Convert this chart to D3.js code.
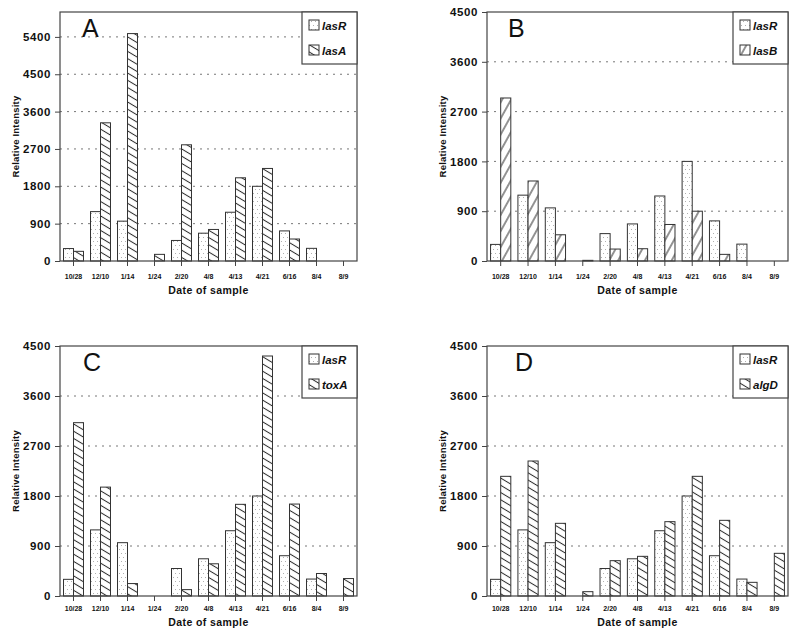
<!DOCTYPE html>
<html>
<head>
<meta charset="utf-8">
<script src="https://cdn.jsdelivr.net/npm/d3@7"></script>
<style>
  html, body { margin: 0; padding: 0; background: #fff; }
  svg { display: block; font-family: "Liberation Sans", Arial, Helvetica, sans-serif; }
</style>
</head>
<body>
<svg id="chart" width="800" height="636"></svg>
<script>
// ---- data ----
const categories = ["10/28", "12/10", "1/14", "1/24", "2/20", "4/8", "4/13", "4/21", "6/16", "8/4", "8/9"];
const lasR = [300, 1190, 960, 0, 495, 670, 1175, 1800, 725, 305, 0];
const lasA = [233, 3330, 5480, 160, 2800, 760, 2005, 2230, 530, 0, 0];
const lasB = [2946, 1446, 474, 12, 216, 222, 660, 900, 120, 0, 0];
const toxA = [3120, 1960, 224, 0, 115, 580, 1650, 4320, 1655, 405, 314];
const algD = [2154, 2430, 1308, 78, 636, 714, 1338, 2154, 1362, 246, 768];
const ticksA = [0, 900, 1800, 2700, 3600, 4500, 5400];
const ticksBCD = [0, 900, 1800, 2700, 3600, 4500];
const panelLetters = ["A", "B", "C", "D"];
const geneNames = ["lasA", "lasB", "toxA", "algD"];
const yMax = [6000, 4500, 4500, 4500];

// ---- layout ----
const layout = [
  { x: 60,  y: 12,  w: 297, h: 249, lab: 15.5, letterDx: 22 },
  { x: 487, y: 12,  w: 301, h: 249, lab: 15.5, letterDx: 21 },
  { x: 60,  y: 346, w: 297, h: 250, lab: 12.5, letterDx: 23 },
  { x: 487, y: 346, w: 301, h: 250, lab: 12.5, letterDx: 28 }
];
const seriesVals = [lasA, lasB, toxA, algD];
const tickSets = [ticksA, ticksBCD, ticksBCD, ticksBCD];
const patterns = ["back", "fwd", "back", "back"];

const svg = d3.select("#chart");
const defs = svg.append("defs");

// dotted pattern for lasR
const pDots = defs.append("pattern").attr("id", "dots").attr("patternUnits", "userSpaceOnUse")
  .attr("width", 4).attr("height", 8);
pDots.append("rect").attr("width", 4).attr("height", 8).attr("fill", "#fff");
pDots.append("rect").attr("x", 1).attr("y", 1).attr("width", 1).attr("height", 1).attr("fill", "#b0b0b0");
pDots.append("rect").attr("x", 3).attr("y", 5).attr("width", 1).attr("height", 1).attr("fill", "#b0b0b0");

// back-diagonal hatch (\)
const pBack = defs.append("pattern").attr("id", "back").attr("patternUnits", "userSpaceOnUse")
  .attr("width", 10).attr("height", 6.2).attr("patternTransform", "rotate(31)");
pBack.append("rect").attr("width", 10).attr("height", 6.2).attr("fill", "#fff");
pBack.append("line").attr("x1", 0).attr("x2", 10).attr("y1", 3.1).attr("y2", 3.1)
  .attr("stroke", "#2a2a2a").attr("stroke-width", 1);

// forward hatch (/)
const pFwd = defs.append("pattern").attr("id", "fwd").attr("patternUnits", "userSpaceOnUse")
  .attr("width", 10).attr("height", 7.8).attr("patternTransform", "rotate(-61)");
pFwd.append("rect").attr("width", 10).attr("height", 7.8).attr("fill", "#fff");
pFwd.append("line").attr("x1", 0).attr("x2", 10).attr("y1", 3.9).attr("y2", 3.9)
  .attr("stroke", "#2a2a2a").attr("stroke-width", 1);

layout.forEach((L, i) => {
  const g = svg.append("g");
  const x = d3.scaleBand().domain(categories).range([L.x, L.x + L.w]);
  const y = d3.scaleLinear().domain([0, yMax[i]]).range([L.y + L.h, L.y]);
  const bw = x.bandwidth() * 0.37;

  // gridlines
  g.selectAll("line.grid").data(tickSets[i].filter(t => t > 0 && t < yMax[i]))
    .enter().append("line")
    .attr("x1", L.x).attr("x2", L.x + L.w)
    .attr("y1", d => y(d)).attr("y2", d => y(d))
    .attr("stroke", "#777").attr("stroke-width", 1).attr("stroke-dasharray", "2,5");

  // bars
  const series = [
    { vals: lasR, fill: "url(#dots)", off: -1 },
    { vals: seriesVals[i], fill: "url(#" + patterns[i] + ")", off: 0 }
  ];
  series.forEach(s => {
    g.selectAll(null).data(categories.map((c, k) => ({ c, v: s.vals[k] })).filter(d => d.v > 0))
      .enter().append("rect")
      .attr("x", d => x(d.c) + x.bandwidth() / 2 + s.off * bw)
      .attr("y", d => y(d.v))
      .attr("width", bw)
      .attr("height", d => y(0) - y(d.v))
      .attr("fill", s.fill)
      .attr("stroke", "#333").attr("stroke-width", 1);
  });

  // frame
  g.append("rect").attr("x", L.x).attr("y", L.y).attr("width", L.w).attr("height", L.h)
    .attr("fill", "none").attr("stroke", "#444").attr("stroke-width", 1.2);

  // y axis
  const ya = g.append("g").attr("transform", `translate(${L.x},0)`)
    .call(d3.axisLeft(y).tickValues(tickSets[i]).tickSize(5).tickPadding(4).tickFormat(d3.format("d")));
  ya.select(".domain").remove();
  ya.selectAll("line").attr("stroke", "#444");
  ya.selectAll("text").attr("font-size", "11.5px").attr("font-weight", "bold")
    .attr("letter-spacing", "0.6px").attr("fill", "#111")
    .attr("font-family", "'Liberation Sans', Arial, sans-serif");

  // x axis
  const xa = g.append("g").attr("transform", `translate(0,${L.y + L.h})`)
    .call(d3.axisBottom(x).tickSize(5).tickPadding(L.lab - 7));
  xa.select(".domain").remove();
  xa.selectAll("line").attr("stroke", "#444");
  xa.selectAll("text").attr("font-size", "7px").attr("font-weight", "bold").attr("fill", "#111")
    .attr("font-family", "'Liberation Sans', Arial, sans-serif");

  // axis titles
  g.append("text").attr("x", L.x + L.w / 2).attr("y", L.y + L.h + L.lab + 17)
    .attr("text-anchor", "middle").attr("font-size", "10.5px").attr("font-weight", "bold")
    .attr("letter-spacing", "0.4px").attr("fill", "#111").text("Date of sample");
  g.append("text").attr("transform", `translate(${L.x - 41},${L.y + L.h / 2}) rotate(-90)`)
    .attr("text-anchor", "middle").attr("font-size", "9.5px").attr("font-weight", "bold")
    .attr("letter-spacing", "0.2px").attr("fill", "#111").text("Relative Intensity");

  // panel letter
  g.append("text").attr("x", L.x + L.letterDx).attr("y", L.y + 24.5)
    .attr("font-size", "25px").attr("fill", "#111").text(panelLetters[i]);

  // legend
  const lw = 55, lh = 52;
  const lx = L.x + L.w - lw, ly = L.y;
  const lg = g.append("g");
  lg.append("rect").attr("x", lx).attr("y", ly).attr("width", lw).attr("height", lh)
    .attr("fill", "#fff").attr("stroke", "#444").attr("stroke-width", 1.2);
  const items = [
    { name: "lasR", fill: "url(#dots)" },
    { name: geneNames[i], fill: "url(#" + patterns[i] + ")" }
  ];
  items.forEach((it, k) => {
    lg.append("rect").attr("x", lx + 7).attr("y", ly + 8 + k * 25).attr("width", 10).attr("height", 10)
      .attr("fill", it.fill).attr("stroke", "#333").attr("stroke-width", 1);
    lg.append("text").attr("x", lx + 20).attr("y", ly + 17.5 + k * 25)
      .attr("font-size", "11.5px").attr("font-weight", "bold").attr("font-style", "italic")
      .attr("fill", "#111").text(it.name);
  });
});
</script>
</body>
</html>
